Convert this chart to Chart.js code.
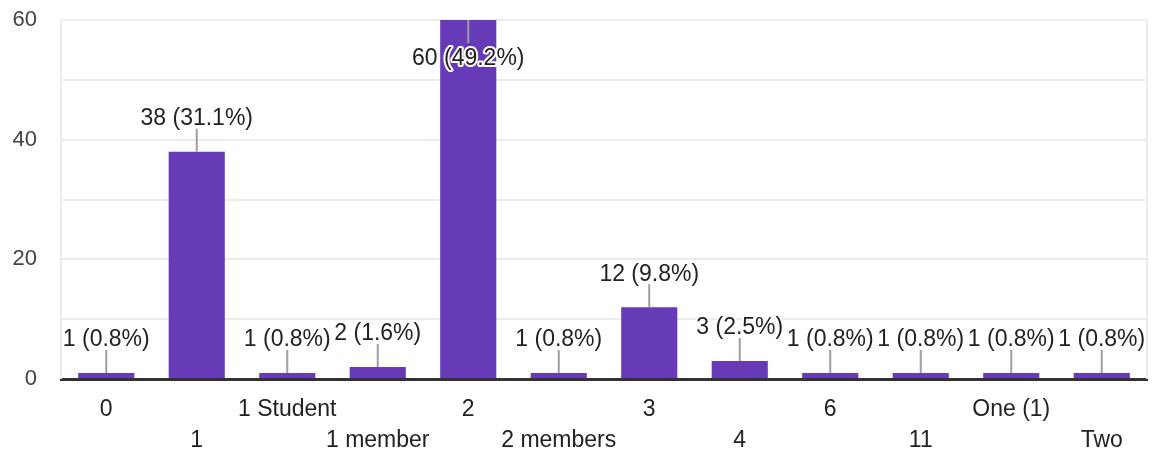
<!DOCTYPE html>
<html>
<head>
<meta charset="utf-8">
<script src="https://cdn.jsdelivr.net/npm/chart.js@4/dist/chart.umd.min.js"></script>
<style>
  html, body { margin: 0; padding: 0; background: #fff; }
  #wrap { width: 1153px; height: 452px; position: relative; }
</style>
</head>
<body>
<div id="wrap"><canvas id="answersChart"></canvas></div>
<script>
let categories = ['0', '1', '1 Student', '1 member', '2', '2 members', '3', '4', '6', '11', 'One (1)', 'Two'];
let counts = [1, 38, 1, 2, 60, 1, 12, 3, 1, 1, 1, 1];
let percents = ['0.8%', '31.1%', '0.8%', '1.6%', '49.2%', '0.8%', '9.8%', '2.5%', '0.8%', '0.8%', '0.8%', '0.8%'];
let yTicks = [0, 20, 40, 60];

let fontFamily = '"Liberation Sans", Arial, sans-serif';

// draws the "n (p%)" callouts with a small leader line
let calloutPlugin = {
    id: 'callouts',
    afterDatasetsDraw: function(chart) {
        let ctx = chart.ctx;
        let meta = chart.getDatasetMeta(0);
        let area = chart.chartArea;
        ctx.save();
        ctx.font = '23px ' + fontFamily;
        ctx.textAlign = 'center';
        ctx.textBaseline = 'middle';
        meta.data.forEach(function(bar, i) {
            let text = counts[i] + ' (' + percents[i] + ')';
            let top = bar.y;
            let lineEnd = top - 23;
            let textY = top - 33;
            if (textY - 10 < area.top) {
                lineEnd = top + 23;
                textY = top + 39;
            }
            ctx.strokeStyle = '#9e9e9e';
            ctx.lineWidth = 2;
            ctx.beginPath();
            ctx.moveTo(bar.x, top);
            ctx.lineTo(bar.x, lineEnd);
            ctx.stroke();
            ctx.lineJoin = 'round';
            ctx.strokeStyle = '#fff';
            ctx.lineWidth = 4;
            ctx.strokeText(text, bar.x, textY);
            ctx.fillStyle = '#222';
            ctx.fillText(text, bar.x, textY);
        });
        ctx.restore();
    }
};

let ctx = document.getElementById('answersChart').getContext('2d');
let answersChart = new Chart(ctx, {
    type: 'bar',
    data: {
        labels: categories,
        datasets: [{
            data: counts,
            backgroundColor: '#673ab7',
            categoryPercentage: 1,
            barPercentage: 0.62
        }]
    },
    options: {
        responsive: true,
        maintainAspectRatio: false,
        animation: false,
        layout: { padding: { top: 0, right: 6, left: 0, bottom: 0 } },
        plugins: {
            legend: { display: false },
            tooltip: { enabled: false }
        },
        scales: {
            x: {
                grid: { display: false, drawTicks: false },
                border: { color: '#333', width: 3 },
                ticks: {
                    autoSkip: false,
                    maxRotation: 0,
                    padding: 15,
                    color: '#222',
                    font: { size: 23, family: fontFamily, lineHeight: 1.35 },
                    callback: function(value, index) {
                        let label = categories[index];
                        return index % 2 === 0 ? [label, ''] : ['', label];
                    }
                },
                afterFit: function(scale) { scale.height = 73; }
            },
            y: {
                min: 0,
                max: 60,
                grid: { color: '#ececec', lineWidth: 2, drawTicks: false },
                border: { display: false },
                ticks: {
                    stepSize: 10,
                    padding: 24,
                    color: '#444',
                    font: { size: 22, family: fontFamily },
                    callback: function(value) {
                        return yTicks.includes(value) ? value : '';
                    }
                },
                afterFit: function(scale) {
                    scale.width = 61;
                    scale.paddingTop = 20;
                    scale.paddingBottom = 0;
                }
            }
        }
    },
    plugins: [calloutPlugin, {
        id: 'frame',
        beforeDatasetsDraw: function(chart) {
            let a = chart.chartArea;
            let c = chart.ctx;
            c.save();
            c.strokeStyle = '#ececec';
            c.lineWidth = 2;
            c.beginPath();
            c.moveTo(a.left, a.top);
            c.lineTo(a.left, a.bottom);
            c.moveTo(a.right, a.top);
            c.lineTo(a.right, a.bottom);
            c.stroke();
            c.restore();
        }
    }]
});
</script>
</body>
</html>
